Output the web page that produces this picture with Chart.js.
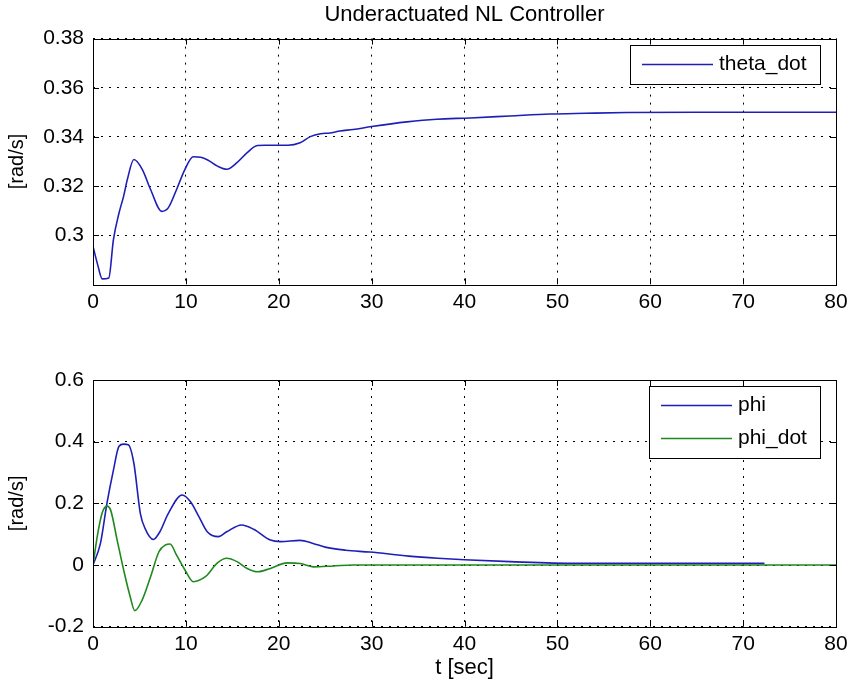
<!DOCTYPE html>
<html>
<head>
<meta charset="utf-8">
<title>Underactuated NL Controller</title>
<script src="https://cdn.jsdelivr.net/npm/chart.js@4.4.1/dist/chart.umd.min.js"></script>
<style>
  html, body { margin: 0; padding: 0; background: #fff; }
  #wrap { position: relative; width: 847px; height: 689px; overflow: hidden; }
  canvas { position: absolute; left: 0; }
  #topChart { top: 0; }
  #bottomChart { top: 320px; }
</style>
</head>
<body>
<div id="wrap">
  <canvas id="topChart" width="847" height="320"></canvas>
  <canvas id="bottomChart" width="847" height="369"></canvas>
</div>
<script>
// theta_dot (top plot)
const tTheta = [0, 0.5, 1.0, 1.7, 2.2, 2.8, 3.3, 3.7, 4.4, 5.3, 6.2, 7.4, 8.1, 9.0, 9.9, 10.8, 11.6, 12.4, 13.4, 14.4, 15.5, 16.6, 17.7, 18.5, 20, 21, 22.3, 23.4, 24.5, 25.5, 26.6, 28, 30, 33.8, 37, 40.6, 44.9, 49.2, 53, 57.5, 65, 80];
const thetaDot = [0.2954, 0.288, 0.2822, 0.2826, 0.2982, 0.309, 0.3159, 0.3227, 0.3308, 0.3268, 0.3186, 0.3097, 0.3111, 0.3186, 0.3268, 0.3319, 0.3317, 0.3305, 0.3281, 0.3268, 0.3295, 0.3336, 0.3365, 0.3366, 0.3366, 0.3366, 0.3376, 0.3401, 0.3413, 0.3416, 0.3424, 0.3430, 0.3442, 0.3461, 0.3472, 0.3477, 0.3485, 0.3493, 0.3496, 0.3499, 0.3500, 0.3500];

// phi (bottom plot)
const tPhi = [0, 0.8, 1.5, 2.2, 2.8, 3.3, 3.8, 4.4, 5.1, 5.6, 6.5, 7.2, 8.1, 9.6, 10.5, 11.4, 12.3, 13.5, 14.4, 16.0, 17.3, 19.1, 20.2, 22.3, 23.7, 25.0, 27.2, 29.8, 34.0, 37.1, 40.0, 44.9, 52.0, 72.3];
const phi = [0, 0.070, 0.200, 0.308, 0.385, 0.392, 0.390, 0.330, 0.167, 0.119, 0.083, 0.108, 0.167, 0.227, 0.205, 0.157, 0.108, 0.092, 0.108, 0.130, 0.116, 0.081, 0.076, 0.080, 0.070, 0.058, 0.048, 0.042, 0.029, 0.022, 0.017, 0.011, 0.0055, 0.0055];

// phi_dot (bottom plot)
const tPhiDot = [0, 0.5, 1.0, 1.5, 1.9, 2.6, 3.3, 4.0, 4.5, 5.3, 6.2, 7.1, 7.8, 8.3, 9.0, 9.9, 10.8, 12.1, 13.4, 14.4, 15.5, 16.6, 17.7, 19.1, 20.9, 22.3, 23.7, 25.9, 28, 80];
const phiDot = [0, 0.10, 0.170, 0.191, 0.178, 0.081, -0.016, -0.102, -0.148, -0.113, -0.038, 0.043, 0.065, 0.068, 0.032, -0.016, -0.054, -0.038, 0.007, 0.022, 0.011, -0.011, -0.022, -0.011, 0.007, 0.005, -0.006, -0.003, 0, 0];

// ticks
const xTicks = [0, 10, 20, 30, 40, 50, 60, 70, 80];
const yTicksTop = [0.30, 0.32, 0.34, 0.36, 0.38];
const yTicksBottom = [-0.2, 0, 0.2, 0.4, 0.6];

const BLUE = '#1f1fb8';
const GREEN = '#1e8a1e';
const FONT = "'Liberation Sans', Arial, sans-serif";

Chart.defaults.font.family = FONT;
Chart.defaults.color = '#000';

const toPoints = (xs, ys) => xs.map((x, i) => ({ x: x, y: ys[i] }));

// axes box + inner tick marks, like matlab
const axesBox = {
  id: 'axesBox',
  afterDatasetsDraw(chart) {
    const { ctx, chartArea: a, scales } = chart;
    ctx.save();
    ctx.strokeStyle = '#000';
    ctx.lineWidth = 1;
    ctx.beginPath();
    scales.x.ticks.forEach(t => {
      const px = Math.round(scales.x.getPixelForValue(t.value)) + 0.5;
      ctx.moveTo(px, a.top); ctx.lineTo(px, a.top + 6);
      ctx.moveTo(px, a.bottom); ctx.lineTo(px, a.bottom - 6);
    });
    scales.y.ticks.forEach(t => {
      const py = Math.round(scales.y.getPixelForValue(t.value)) + 0.5;
      ctx.moveTo(a.left, py); ctx.lineTo(a.left + 6, py);
      ctx.moveTo(a.right, py); ctx.lineTo(a.right - 6, py);
    });
    ctx.stroke();
    ctx.strokeRect(Math.round(a.left) + 0.5, Math.round(a.top) + 0.5, Math.round(a.right - a.left), Math.round(a.bottom - a.top));
    ctx.restore();
  }
};

// boxed legend in the top right corner
const boxLegend = {
  id: 'boxLegend',
  afterDatasetsDraw(chart) {
    const { ctx, chartArea: a } = chart;
    const items = chart.data.datasets;
    const padL = 12, lineLen = 71, gap = 6, padR = 13, rowH = 33, padV = 3;
    ctx.save();
    ctx.font = '21px ' + FONT;
    const textW = Math.max(...items.map(d => ctx.measureText(d.label).width));
    const w = Math.round(padL + lineLen + gap + textW + padR);
    const h = rowH * items.length + padV * 2;
    const x = Math.round(a.right - 16 - w);
    const y = Math.round(a.top + 6);
    ctx.fillStyle = '#fff';
    ctx.fillRect(x, y, w, h);
    ctx.strokeStyle = '#000';
    ctx.lineWidth = 1;
    ctx.strokeRect(x + 0.5, y + 0.5, w, h);
    items.forEach((d, i) => {
      const cy = y + padV + rowH * (i + 0.5);
      ctx.strokeStyle = d.borderColor;
      ctx.lineWidth = d.borderWidth;
      ctx.beginPath();
      ctx.moveTo(x + padL, cy);
      ctx.lineTo(x + padL + lineLen, cy);
      ctx.stroke();
      ctx.fillStyle = '#000';
      ctx.textBaseline = 'middle';
      ctx.textAlign = 'left';
      ctx.fillText(d.label, x + padL + lineLen + gap, cy);
    });
    ctx.restore();
  }
};

// title centred over the plot
const plotTitle = {
  id: 'plotTitle',
  afterDraw(chart, args, opts) {
    if (!opts.text) return;
    const { ctx, chartArea: a } = chart;
    ctx.save();
    ctx.font = '22px ' + FONT;
    ctx.fillStyle = '#000';
    ctx.textAlign = 'center';
    ctx.textBaseline = 'middle';
    ctx.fillText(opts.text, (a.left + a.right) / 2, opts.y);
    ctx.restore();
  }
};

function makeScales(yMin, yMax, yTicks, xAxisHeight, xTitle) {
  return {
    x: {
      type: 'linear',
      min: 0,
      max: 80,
      afterBuildTicks: s => { s.ticks = xTicks.map(v => ({ value: v })); },
      afterFit: s => { s.height = xAxisHeight; s.paddingLeft = 0; s.paddingRight = 0; },
      grid: { color: '#000', lineWidth: 1, drawTicks: false },
      border: { display: false, dash: [2, 6] },
      ticks: { padding: 5, font: { size: 21 }, maxRotation: 0, autoSkip: false, callback: v => String(v) },
      title: xTitle ? { display: true, text: xTitle, font: { size: 22 }, padding: { top: 0, bottom: 8 } } : { display: false }
    },
    y: {
      min: yMin,
      max: yMax,
      afterBuildTicks: s => { s.ticks = yTicks.map(v => ({ value: v })); },
      afterFit: s => { s.width = 93; s.paddingTop = 0; s.paddingBottom = 0; },
      grid: { color: '#000', lineWidth: 1, drawTicks: false },
      border: { display: false, dash: [2, 6] },
      ticks: { padding: 9, font: { size: 21 }, autoSkip: false, callback: v => String(v) },
      title: { display: true, text: '[rad/s]', font: { size: 20 }, padding: { top: 5, bottom: 0 } }
    }
  };
}

new Chart(document.getElementById('topChart'), {
  type: 'line',
  data: {
    datasets: [
      { label: 'theta_dot', data: toPoints(tTheta, thetaDot), borderColor: BLUE, borderWidth: 1.6, pointRadius: 0, cubicInterpolationMode: 'monotone', fill: false }
    ]
  },
  options: {
    responsive: false,
    animation: false,
    layout: { padding: { left: 0, right: 11, top: 38.6, bottom: 0 } },
    scales: makeScales(0.28, 0.38, yTicksTop, 35.7, null),
    plugins: {
      legend: { display: false },
      tooltip: { enabled: false },
      plotTitle: { text: 'Underactuated NL Controller', y: 15 }
    }
  },
  plugins: [axesBox, boxLegend, plotTitle]
});

new Chart(document.getElementById('bottomChart'), {
  type: 'line',
  data: {
    datasets: [
      { label: 'phi', data: toPoints(tPhi, phi), borderColor: BLUE, borderWidth: 1.6, pointRadius: 0, cubicInterpolationMode: 'monotone', fill: false, order: 1 },
      { label: 'phi_dot', data: toPoints(tPhiDot, phiDot), borderColor: GREEN, borderWidth: 1.6, pointRadius: 0, cubicInterpolationMode: 'monotone', fill: false, order: 0 }
    ]
  },
  options: {
    responsive: false,
    animation: false,
    layout: { padding: { left: 0, right: 11, top: 60, bottom: 0 } },
    scales: makeScales(-0.2, 0.6, yTicksBottom, 62.3, 't [sec]'),
    plugins: {
      legend: { display: false },
      tooltip: { enabled: false },
      plotTitle: { text: '' }
    }
  },
  plugins: [axesBox, boxLegend, plotTitle]
});
</script>
</body>
</html>
